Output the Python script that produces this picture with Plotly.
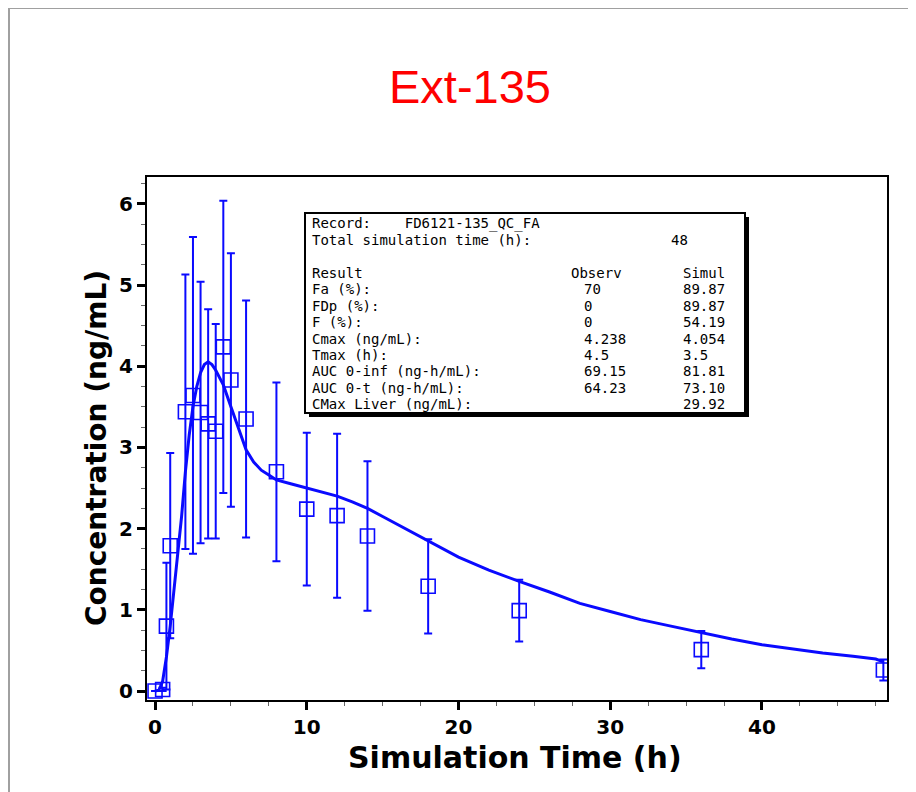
import plotly.graph_objects as go

# ---------------- data ----------------
obs_time = [0, 0.5, 0.75, 1, 2, 2.5, 3, 3.5, 4, 4.5, 5, 6, 8, 10, 12, 14, 18, 24, 36, 48]
obs_conc = [0, 0.02, 0.8, 1.79, 3.44, 3.64, 3.43, 3.29, 3.2, 4.238, 3.83, 3.35,
            2.7, 2.24, 2.16, 1.91, 1.29, 0.99, 0.51, 0.26]
obs_sd = [0, 0.02, 0.78, 1.14, 1.69, 1.95, 1.61, 1.41, 1.32, 1.8, 1.56, 1.46,
          1.1, 0.94, 1.01, 0.92, 0.58, 0.38, 0.23, 0.13]

sim_time = [0, 0.25, 0.5, 0.75, 1.0, 1.25, 1.5, 1.75, 2.0, 2.25, 2.5, 2.75, 3.0, 3.25, 3.5,
            3.75, 4.0, 4.5, 5.0, 5.5, 6.0, 6.5, 7.0, 7.5, 8, 9, 10, 11, 12, 13, 14, 15, 16,
            17, 18, 20, 22, 24, 26, 28, 30, 32, 34, 36, 38, 40, 42, 44, 46, 47.5, 48]
sim_conc = [0, 0.01, 0.12, 0.42, 0.8, 1.25, 1.7, 2.15, 2.7, 3.15, 3.5, 3.75, 3.92, 4.02, 4.054,
            4.02, 3.95, 3.77, 3.5, 3.24, 2.97, 2.82, 2.72, 2.66, 2.6, 2.55, 2.5, 2.45, 2.4, 2.33,
            2.25, 2.15, 2.05, 1.96, 1.86, 1.65, 1.49, 1.35, 1.22, 1.08, 0.98, 0.88, 0.8, 0.72,
            0.64, 0.57, 0.52, 0.47, 0.43, 0.395, 0.36]

chart_title = "Ext-135"
x_title = "Simulation Time (h)"
y_title = "Concentration (ng/mL)"
x_ticks = [0, 10, 20, 30, 40]
y_ticks = [0, 1, 2, 3, 4, 5, 6]

record_line = "Record:    FD6121-135_QC_FA"
total_label = "Total simulation time (h):"
total_value = "48"
table_labels = ["Result", "Fa (%):", "FDp (%):", "F (%):", "Cmax (ng/mL):", "Tmax (h):",
                "AUC 0-inf (ng-h/mL):", "AUC 0-t (ng-h/mL):", "CMax Liver (ng/mL):"]
table_observ = ["Observ", "70", "0", "0", "4.238", "4.5", "69.15", "64.23", ""]
table_simul = ["Simul", "89.87", "89.87", "54.19", "4.054", "3.5", "81.81", "73.10", "29.92"]

# ---------------- layout helpers (window pixel -> paper) ----------------
OFF = 8                      # page body margin
W, H = 916 - OFF, 792 - OFF
PL, PR, PT, PB = 147, 887, 177, 700   # plot frame in window pixels


def px(x):
    return (x - PL) / (PR - PL)


def py(y):
    return (PB - y) / (PB - PT)


BLUE = "rgb(10,10,255)"

fig = go.Figure()
fig.add_trace(go.Scatter(
    x=sim_time, y=sim_conc, mode="lines",
    line=dict(color=BLUE, width=3), hoverinfo="skip", showlegend=False))
fig.add_trace(go.Scatter(
    x=obs_time, y=obs_conc, mode="markers",
    marker=dict(symbol="square-open", size=14, color=BLUE, line=dict(width=1.6, color=BLUE)),
    error_y=dict(type="data", array=obs_sd, visible=True, color=BLUE, thickness=2, width=4),
    showlegend=False))

tick_font = dict(family="DejaVu Sans", size=20, color="black", weight="bold")

fig.update_xaxes(
    range=[-0.53, 48.24], showgrid=False, zeroline=False,
    showline=True, linecolor="black", linewidth=2, mirror=True,
    tickmode="array", tickvals=x_ticks, ticktext=[str(v) for v in x_ticks],
    ticks="outside", ticklen=8, tickwidth=3, tickcolor="black",
    minor=dict(dtick=2.5, tick0=0, ticks="outside", ticklen=4, tickwidth=1, tickcolor="#666"),
    tickfont=tick_font)
fig.update_yaxes(
    range=[-0.11, 6.33], showgrid=False, zeroline=False,
    showline=True, linecolor="black", linewidth=2, mirror=True,
    tickmode="array", tickvals=y_ticks, ticktext=[str(v) for v in y_ticks],
    ticks="outside", ticklen=8, tickwidth=3, tickcolor="black",
    minor=dict(dtick=0.25, tick0=0, ticks="outside", ticklen=4, tickwidth=1, tickcolor="#666"),
    tickfont=tick_font)

shapes = [
    # outer grey frame (right/bottom edges fall outside the picture)
    dict(type="rect", xref="paper", yref="paper", x0=px(9), x1=px(960), y0=py(840), y1=py(8),
         line=dict(color="#a0a0a0", width=2), fillcolor="rgba(0,0,0,0)", layer="below"),
    # table shadow
    dict(type="rect", xref="paper", yref="paper", x0=px(309), x1=px(749), y0=py(417), y1=py(217),
         line=dict(color="black", width=0), fillcolor="black", layer="above"),
    # table box
    dict(type="rect", xref="paper", yref="paper", x0=px(305), x1=px(745), y0=py(413), y1=py(213),
         line=dict(color="black", width=2), fillcolor="white", layer="above"),
]

mono = dict(family="DejaVu Sans Mono", size=14, color="black")
ann = []


def txt(s, x, y, font=mono, xanchor="left", **kw):
    ann.append(dict(text=s, x=px(x), y=py(y), xref="paper", yref="paper",
                    xanchor=xanchor, yanchor="middle", showarrow=False, font=font,
                    borderpad=0, **kw))


txt(record_line, 311, 223)
txt(total_label, 311, 240)
txt(total_value, 670, 240)
row_y0, row_dy = 273, 16.4
for i, (lab, ob, si) in enumerate(zip(table_labels, table_observ, table_simul)):
    yy = row_y0 + i * row_dy
    txt(lab, 311, yy)
    if ob:
        txt(ob, 570 if i == 0 else 583, yy)
    txt(si, 682, yy)

# chart title
txt(chart_title, 470, 87, font=dict(family="Liberation Sans", size=47, color="red"), xanchor="center")
# axis titles
txt("<b>" + x_title + "</b>", 515, 757,
    font=dict(family="DejaVu Sans", size=30, color="black"), xanchor="center")
ann.append(dict(text="<b>" + y_title + "</b>", x=px(96), y=py(448), xref="paper", yref="paper",
                xanchor="center", yanchor="middle", showarrow=False, textangle=-90,
                font=dict(family="DejaVu Sans", size=28, color="black")))

fig.update_layout(
    width=W, height=H, autosize=False,
    margin=dict(l=PL - OFF, r=W - (PR - OFF), t=PT - OFF, b=H - (PB - OFF), autoexpand=False),
    paper_bgcolor="white", plot_bgcolor="white",
    shapes=shapes, annotations=ann, showlegend=False)

fig.write_html("out.html")
